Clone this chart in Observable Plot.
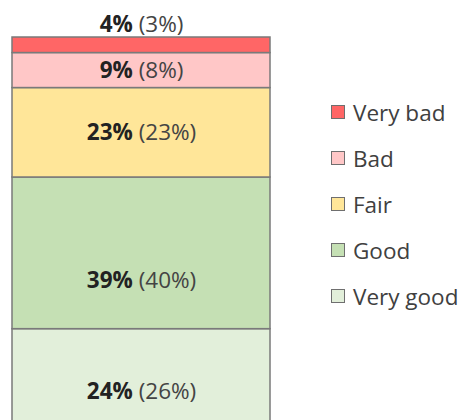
<!DOCTYPE html>
<html>
<head>
<meta charset="utf-8">
<script src="https://cdn.jsdelivr.net/npm/d3@7"></script>
<script src="https://cdn.jsdelivr.net/npm/@observablehq/plot@0.6"></script>
<style>
  html, body { margin: 0; padding: 0; background: #fff; }
  #wrap { position: relative; width: 463px; height: 420px; overflow: hidden; font-family: "Open Sans", sans-serif; }
  #legend { position: absolute; left: 331px; top: 89px; }
  .item { display: flex; align-items: center; height: 46px; font-size: 22.5px; color: #404040; white-space: nowrap; }
  .sw { width: 12px; height: 12px; border: 1.5px solid #6f6f6f; margin-right: 8px; flex: none; }
</style>
</head>
<body>
<div id="wrap"><div id="chart"></div><div id="legend"></div></div>
<script>
// Data (bottom to top of the stacked bar)
const categories = ["Very good", "Good", "Fair", "Bad", "Very bad"];
const share      = [24, 39, 23, 9, 4];     // bold value
const sharePrev  = [26, 40, 23, 8, 3];     // value in brackets
const colors     = ["#e2efda", "#c5e0b4", "#ffe699", "#ffc7c7", "#ff6666"];
const legendOrder = ["Very bad", "Bad", "Fair", "Good", "Very good"];

const data = categories.map((c, i) => ({
  cat: c, value: share[i], label: `${share[i]}% (${sharePrev[i]}%)`
}));

const labelFor = (names) => d => names.includes(d.cat) ? d.label : null;
const fs = 22.5;

const chart = Plot.plot({
  width: 463,
  height: 420,
  marginLeft: 12,
  marginRight: 193,
  marginTop: 0,
  marginBottom: 0,
  style: { fontFamily: "Open Sans, sans-serif", background: "transparent" },
  x: { type: "band", domain: ["all"], padding: 0, axis: null },
  y: { domain: [0, 99], range: [422, 37], axis: null },
  color: { domain: categories, range: colors },
  marks: [
    Plot.barY(data, { x: d => "all", y: "value", fill: "cat", stroke: "#7a7a7a", strokeWidth: 1.5 }),
    Plot.text(data, Plot.stackY({
      x: d => "all", y: "value", text: labelFor(["Fair", "Bad"]),
      fontSize: fs, fill: "#333"
    })),
    Plot.text(data, Plot.stackY({
      x: d => "all", y: "value", text: labelFor(["Good"]),
      fontSize: fs, fill: "#333", dy: 27
    })),
    Plot.text(data, Plot.stackY({
      x: d => "all", y: "value", text: labelFor(["Very good"]),
      fontSize: fs, fill: "#333", dy: 16
    })),
    Plot.text(data, Plot.stackY2({
      x: d => "all", y: "value", text: labelFor(["Very bad"]),
      fontSize: fs, fill: "#333", dy: -13
    }))
  ]
});

// Bold the first part of each label
chart.querySelectorAll('g[aria-label="text"] text').forEach(t => {
  const s = t.textContent;
  const k = s.indexOf(" ");
  if (k < 0) return;
  t.textContent = "";
  const ns = "http://www.w3.org/2000/svg";
  const a = document.createElementNS(ns, "tspan");
  a.setAttribute("font-weight", "700");
  a.setAttribute("fill", "#222");
  a.textContent = s.slice(0, k);
  const b = document.createElementNS(ns, "tspan");
  b.setAttribute("fill", "#444");
  b.textContent = s.slice(k);
  t.appendChild(a); t.appendChild(b);
});
document.getElementById("chart").appendChild(chart);

const leg = document.getElementById("legend");
legendOrder.forEach(c => {
  const row = document.createElement("div");
  row.className = "item";
  const sw = document.createElement("span");
  sw.className = "sw";
  sw.style.background = colors[categories.indexOf(c)];
  const tx = document.createElement("span");
  tx.textContent = c;
  row.appendChild(sw); row.appendChild(tx);
  leg.appendChild(row);
});
</script>
</body>
</html>
